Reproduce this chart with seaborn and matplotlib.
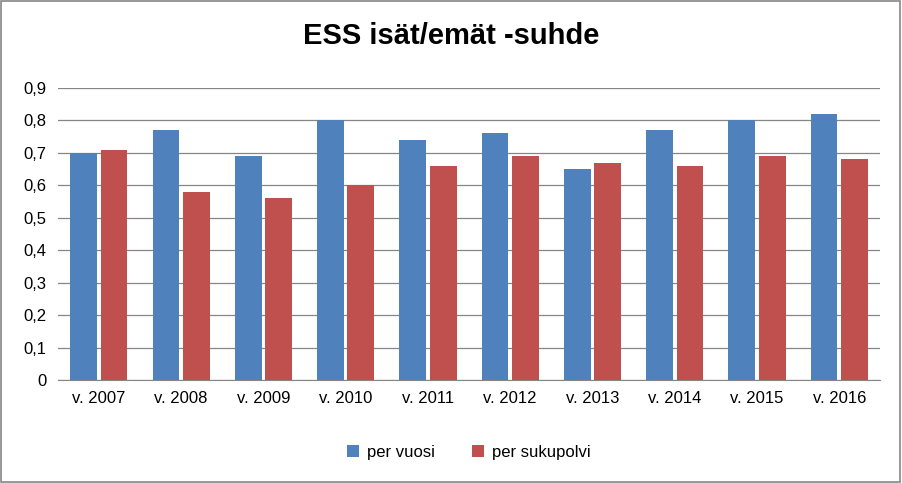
import pandas as pd
import seaborn as sns
import matplotlib.pyplot as plt

years = ["v. 2007", "v. 2008", "v. 2009", "v. 2010", "v. 2011",
         "v. 2012", "v. 2013", "v. 2014", "v. 2015", "v. 2016"]
per_vuosi = [0.70, 0.77, 0.69, 0.80, 0.74, 0.76, 0.65, 0.77, 0.80, 0.82]
per_sukupolvi = [0.71, 0.58, 0.56, 0.60, 0.66, 0.69, 0.67, 0.66, 0.69, 0.68]

df = pd.DataFrame({"vuosi": years * 2,
                   "arvo": per_vuosi + per_sukupolvi,
                   "sarja": ["per vuosi"] * 10 + ["per sukupolvi"] * 10})

plt.rcParams["font.family"] = "Liberation Sans"
fig = plt.figure(figsize=(9.02, 4.83), dpi=100)
ax = fig.add_axes([0.064, 0.213, 0.912, 0.605])
sns.barplot(data=df, x="vuosi", y="arvo", hue="sarja", ax=ax, saturation=1,
            palette=["#4F81BD", "#C0504D"], width=0.74, gap=0.12, legend=True)

ax.set_ylim(0, 0.9)
ax.set_yticks([i / 10 for i in range(10)])
ax.set_yticklabels(["0"] + [f"0,{i}" for i in range(1, 10)], fontsize=12)
ax.tick_params(axis="x", labelsize=12, length=0, pad=8)
ax.tick_params(axis="y", length=0, pad=8)
ax.yaxis.grid(True, color="#868686", linewidth=0.9)
ax.set_axisbelow(True)
for s in ["top", "right", "left"]:
    ax.spines[s].set_visible(False)
ax.spines["bottom"].set_color("#868686")
ax.set_xlabel("")
ax.set_ylabel("")
ax.set_xlim(-0.5, 9.5)

fig.suptitle("ESS isät/emät -suhde", fontsize=21, fontweight="bold", y=0.955)
ax.legend(loc="upper center", bbox_to_anchor=(0.5, -0.17), ncol=2,
          frameon=False, fontsize=12, handlelength=0.7, handleheight=0.7,
          columnspacing=2.2, handletextpad=0.5)

fig.patches.append(plt.Rectangle((0.001, 0.002), 0.997, 0.996, transform=fig.transFigure,
                                 fill=False, edgecolor="#868686", linewidth=1.2))
fig.savefig("out.png", dpi=100)
